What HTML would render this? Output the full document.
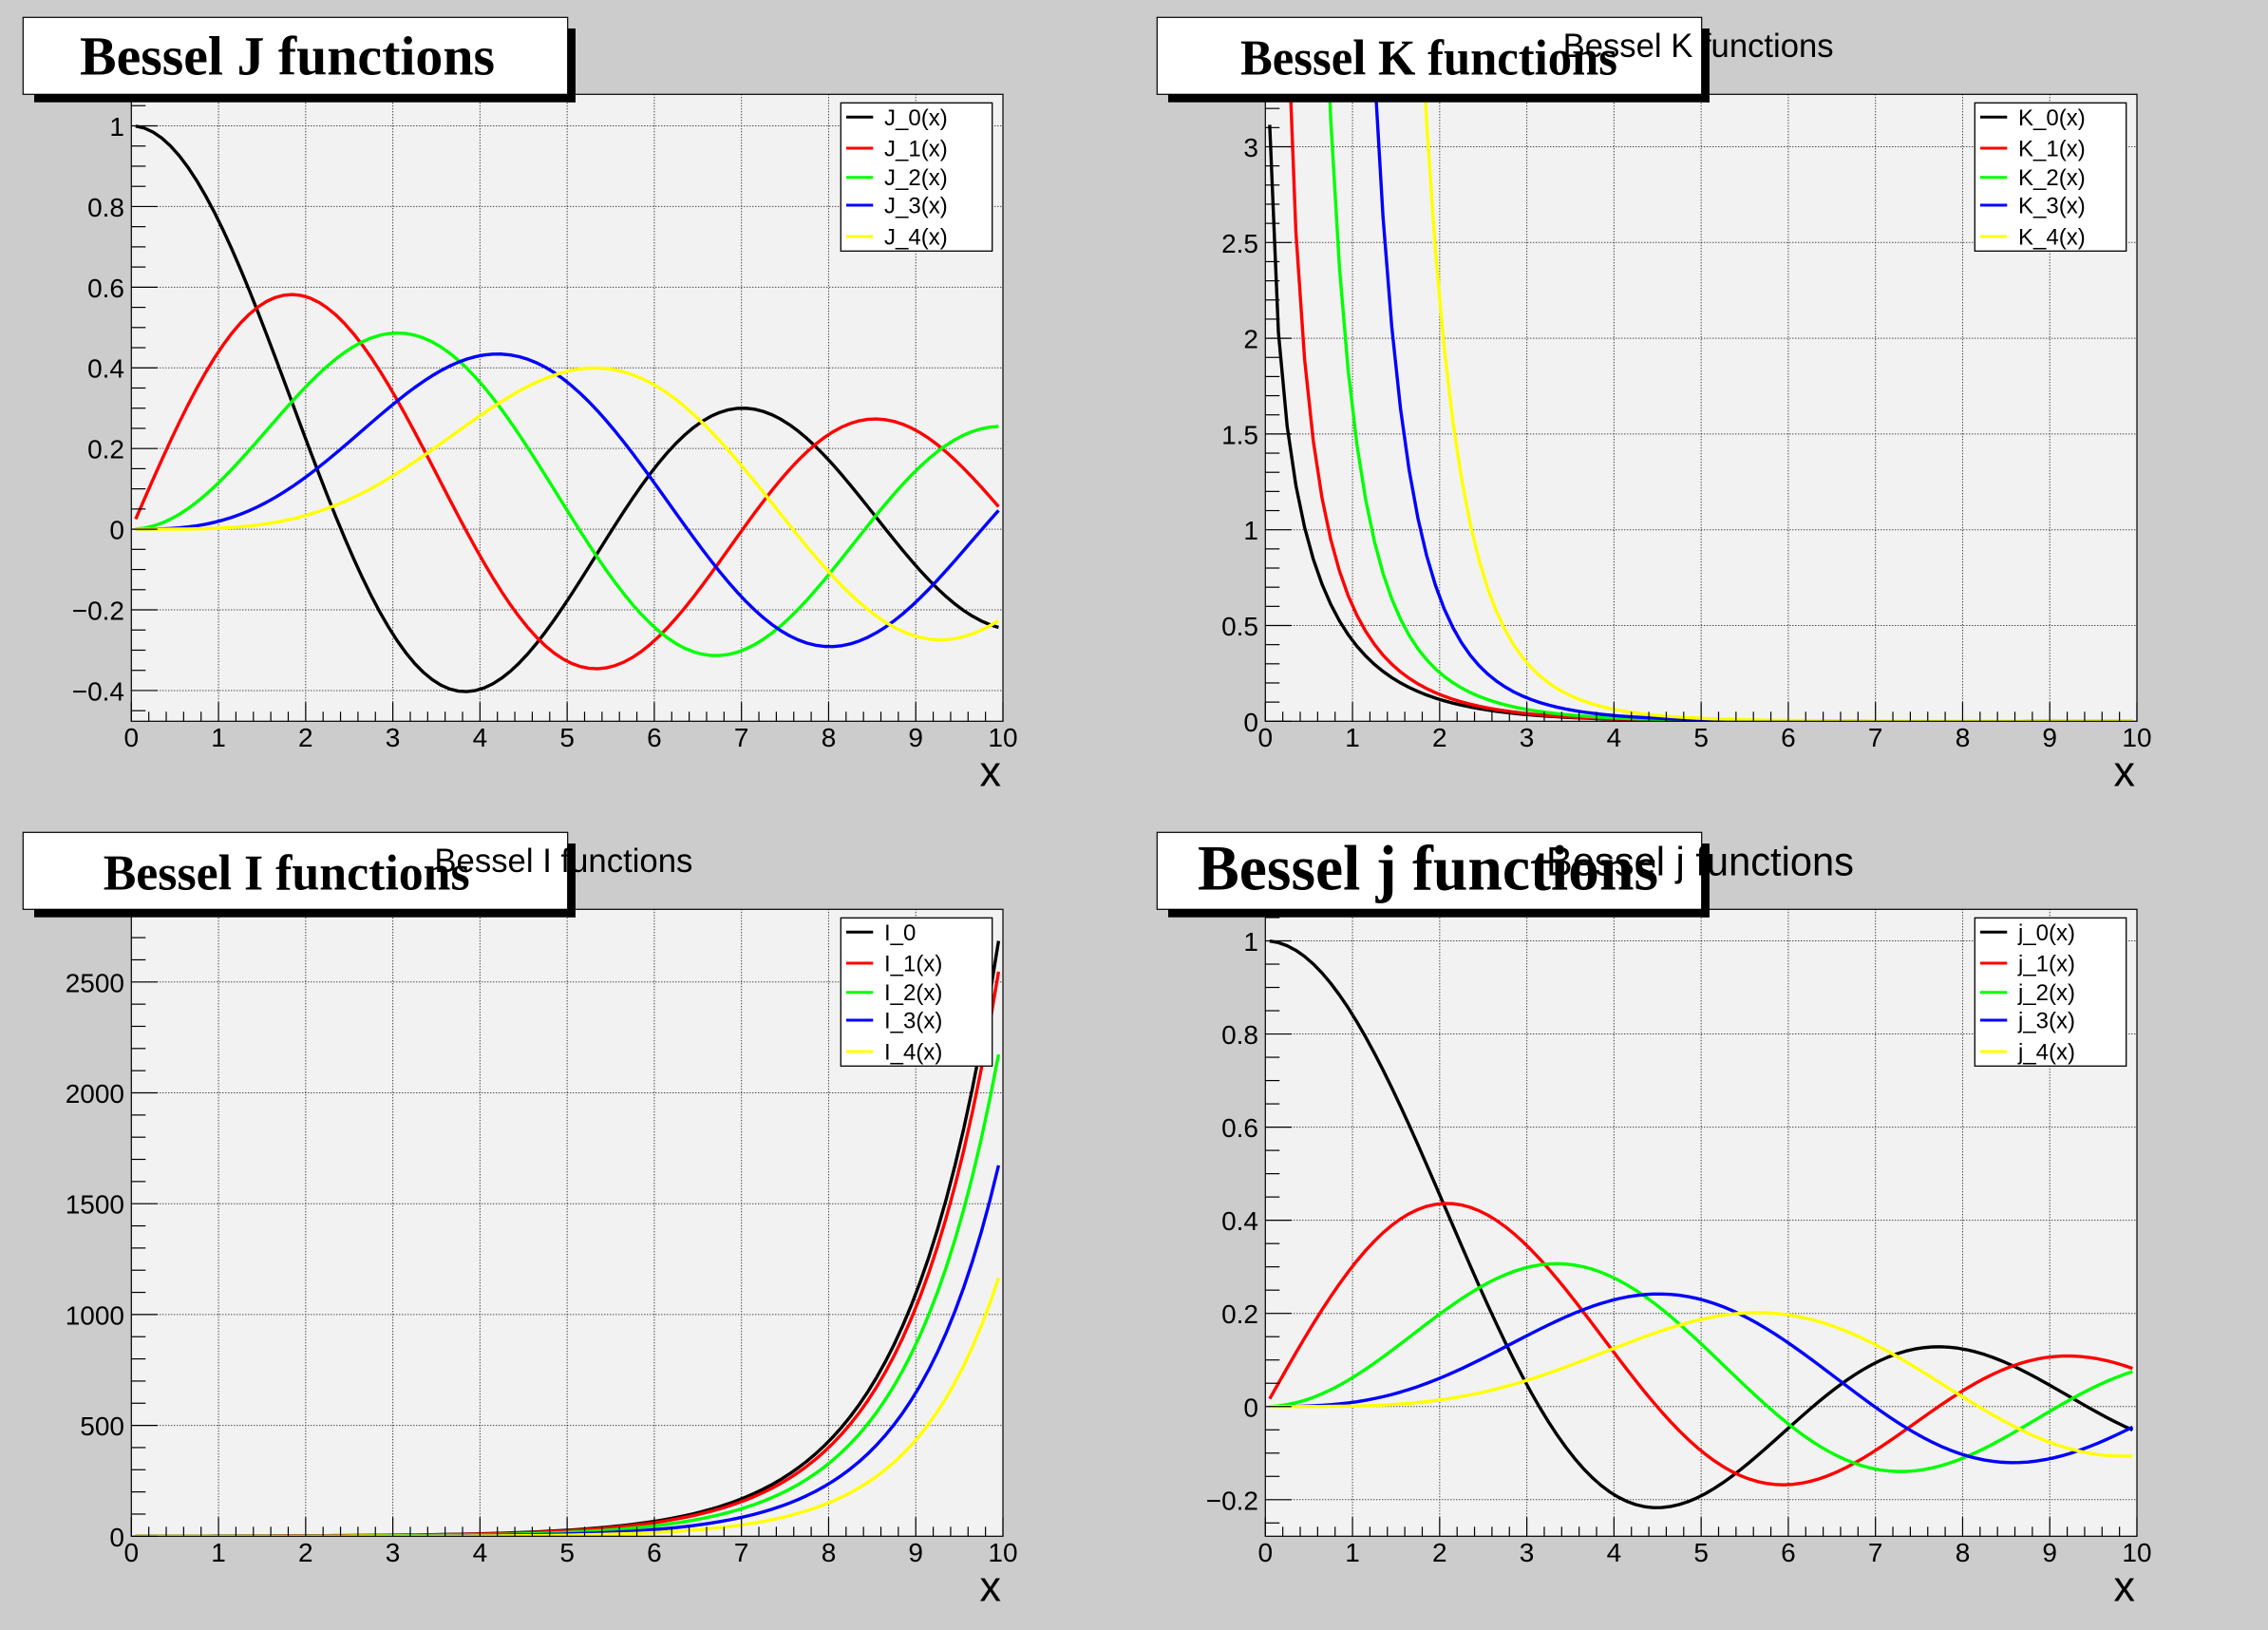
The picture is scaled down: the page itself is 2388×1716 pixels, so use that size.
<!DOCTYPE html>
<html><head><meta charset="utf-8">
<style>
html,body{margin:0;padding:0;background:#cccccc;}
svg{display:block}
text{font-family:"Liberation Sans",Arial,sans-serif;fill:#000;}
.ttl{font-family:"Liberation Serif","Times New Roman",serif;font-weight:bold;}
.yl{font-size:28px;text-anchor:end;}
.xl{font-size:28px;text-anchor:middle;}
.lg{font-size:24px;}
.ax{font-size:45px;text-anchor:end;}
</style></head><body>
<svg id="s" width="2388" height="1716" viewBox="0 0 2388 1716" xmlns="http://www.w3.org/2000/svg">
<defs><clipPath id="fc" clipPathUnits="userSpaceOnUse"><rect x="138.3" y="99.3" width="917.7" height="660"/></clipPath></defs>
<rect width="2388" height="1716" fill="#cccccc"/>

<!-- ================= Panel J ================= -->
<g transform="translate(0,0)">
<rect x="138.3" y="99.3" width="917.7" height="660" fill="#f2f2f2"/>
<g id="grid0"></g>
<g id="cur0" clip-path="url(#fc)"></g>
<rect x="138.3" y="99.3" width="917.7" height="660" fill="none" stroke="#000" stroke-width="1.2"/>
<g id="tick0"></g>
<text class="yl" x="131" y="143">1</text>
<text class="yl" x="131" y="227.9">0.8</text>
<text class="yl" x="131" y="312.8">0.6</text>
<text class="yl" x="131" y="397.7">0.4</text>
<text class="yl" x="131" y="482.7">0.2</text>
<text class="yl" x="131" y="567.6">0</text>
<text class="yl" x="131" y="652.5">−0.2</text>
<text class="yl" x="131" y="737.5">−0.4</text>
<text class="xl" x="138.3" y="786">0</text><text class="xl" x="230.1" y="786">1</text><text class="xl" x="321.8" y="786">2</text><text class="xl" x="413.6" y="786">3</text><text class="xl" x="505.4" y="786">4</text><text class="xl" x="597.2" y="786">5</text><text class="xl" x="688.9" y="786">6</text><text class="xl" x="780.7" y="786">7</text><text class="xl" x="872.5" y="786">8</text><text class="xl" x="964.2" y="786">9</text><text class="xl" x="1056" y="786">10</text>
<text class="ax" x="1054" y="827.5">x</text>
<rect x="885.3" y="108.3" width="159.4" height="156" fill="#fff" stroke="#000" stroke-width="1.3"/>
<line x1="891" x2="919.3" y1="123.3" y2="123.3" stroke="#000" stroke-width="3"/><text class="lg" x="931" y="131.8">J_0(x)</text>
<line x1="891" x2="919.3" y1="156" y2="156" stroke="#ff0000" stroke-width="3"/><text class="lg" x="931" y="164.5">J_1(x)</text>
<line x1="891" x2="919.3" y1="186.7" y2="186.7" stroke="#00ff00" stroke-width="3"/><text class="lg" x="931" y="195.2">J_2(x)</text>
<line x1="891" x2="919.3" y1="216" y2="216" stroke="#0000ff" stroke-width="3"/><text class="lg" x="931" y="224.5">J_3(x)</text>
<line x1="891" x2="919.3" y1="249" y2="249" stroke="#ffff00" stroke-width="3"/><text class="lg" x="931" y="257.5">J_4(x)</text>
<rect x="597.7" y="30" width="8.3" height="77.7" fill="#000"/>
<rect x="36" y="99.3" width="570" height="8.4" fill="#000"/>
<rect x="24.3" y="18.3" width="573.4" height="81" fill="#fff" stroke="#000" stroke-width="1.2"/>
<text class="ttl" x="84" y="78.3" font-size="58" textLength="437" lengthAdjust="spacingAndGlyphs">Bessel J functions</text>
</g>

<!-- ================= Panel K ================= -->
<g transform="translate(1194,0)">
<rect x="138.3" y="99.3" width="917.7" height="660" fill="#f2f2f2"/>
<g id="grid1"></g>
<g id="cur1" clip-path="url(#fc)"></g>
<rect x="138.3" y="99.3" width="917.7" height="660" fill="none" stroke="#000" stroke-width="1.2"/>
<g id="tick1"></g>
<text class="yl" x="131" y="769.8">0</text>
<text class="yl" x="131" y="669">0.5</text>
<text class="yl" x="131" y="568.2">1</text>
<text class="yl" x="131" y="467.4">1.5</text>
<text class="yl" x="131" y="366.6">2</text>
<text class="yl" x="131" y="265.8">2.5</text>
<text class="yl" x="131" y="165">3</text>
<text class="xl" x="138.3" y="786">0</text><text class="xl" x="230.1" y="786">1</text><text class="xl" x="321.8" y="786">2</text><text class="xl" x="413.6" y="786">3</text><text class="xl" x="505.4" y="786">4</text><text class="xl" x="597.2" y="786">5</text><text class="xl" x="688.9" y="786">6</text><text class="xl" x="780.7" y="786">7</text><text class="xl" x="872.5" y="786">8</text><text class="xl" x="964.2" y="786">9</text><text class="xl" x="1056" y="786">10</text>
<text class="ax" x="1054" y="827.5">x</text>
<rect x="885.3" y="108.3" width="159.4" height="156" fill="#fff" stroke="#000" stroke-width="1.3"/>
<line x1="891" x2="919.3" y1="123.3" y2="123.3" stroke="#000" stroke-width="3"/><text class="lg" x="931" y="131.8">K_0(x)</text>
<line x1="891" x2="919.3" y1="156" y2="156" stroke="#ff0000" stroke-width="3"/><text class="lg" x="931" y="164.5">K_1(x)</text>
<line x1="891" x2="919.3" y1="186.7" y2="186.7" stroke="#00ff00" stroke-width="3"/><text class="lg" x="931" y="195.2">K_2(x)</text>
<line x1="891" x2="919.3" y1="216" y2="216" stroke="#0000ff" stroke-width="3"/><text class="lg" x="931" y="224.5">K_3(x)</text>
<line x1="891" x2="919.3" y1="249" y2="249" stroke="#ffff00" stroke-width="3"/><text class="lg" x="931" y="257.5">K_4(x)</text>
<rect x="597.7" y="30" width="8.3" height="77.7" fill="#000"/>
<rect x="36" y="99.3" width="570" height="8.4" fill="#000"/>
<rect x="24.3" y="18.3" width="573.4" height="81" fill="#fff" stroke="#000" stroke-width="1.2"/>
<text class="ttl" x="112" y="78.3" font-size="53" textLength="397" lengthAdjust="spacingAndGlyphs">Bessel K functions</text>
<text x="451.6" y="60" font-size="35" textLength="285" lengthAdjust="spacingAndGlyphs">Bessel K functions</text>
</g>

<!-- ================= Panel I ================= -->
<g transform="translate(0,858)">
<rect x="138.3" y="99.3" width="917.7" height="660" fill="#f2f2f2"/>
<g id="grid2"></g>
<g id="cur2" clip-path="url(#fc)"></g>
<rect x="138.3" y="99.3" width="917.7" height="660" fill="none" stroke="#000" stroke-width="1.2"/>
<g id="tick2"></g>
<text class="yl" x="131" y="769.8">0</text>
<text class="yl" x="131" y="653.1">500</text>
<text class="yl" x="131" y="536.4">1000</text>
<text class="yl" x="131" y="419.7">1500</text>
<text class="yl" x="131" y="303">2000</text>
<text class="yl" x="131" y="186.3">2500</text>
<text class="xl" x="138.3" y="786">0</text><text class="xl" x="230.1" y="786">1</text><text class="xl" x="321.8" y="786">2</text><text class="xl" x="413.6" y="786">3</text><text class="xl" x="505.4" y="786">4</text><text class="xl" x="597.2" y="786">5</text><text class="xl" x="688.9" y="786">6</text><text class="xl" x="780.7" y="786">7</text><text class="xl" x="872.5" y="786">8</text><text class="xl" x="964.2" y="786">9</text><text class="xl" x="1056" y="786">10</text>
<text class="ax" x="1054" y="827.5">x</text>
<rect x="885.3" y="108.3" width="159.4" height="156" fill="#fff" stroke="#000" stroke-width="1.3"/>
<line x1="891" x2="919.3" y1="123.3" y2="123.3" stroke="#000" stroke-width="3"/><text class="lg" x="931" y="131.8">I_0</text>
<line x1="891" x2="919.3" y1="156" y2="156" stroke="#ff0000" stroke-width="3"/><text class="lg" x="931" y="164.5">I_1(x)</text>
<line x1="891" x2="919.3" y1="186.7" y2="186.7" stroke="#00ff00" stroke-width="3"/><text class="lg" x="931" y="195.2">I_2(x)</text>
<line x1="891" x2="919.3" y1="216" y2="216" stroke="#0000ff" stroke-width="3"/><text class="lg" x="931" y="224.5">I_3(x)</text>
<line x1="891" x2="919.3" y1="249" y2="249" stroke="#ffff00" stroke-width="3"/><text class="lg" x="931" y="257.5">I_4(x)</text>
<rect x="597.7" y="30" width="8.3" height="77.7" fill="#000"/>
<rect x="36" y="99.3" width="570" height="8.4" fill="#000"/>
<rect x="24.3" y="18.3" width="573.4" height="81" fill="#fff" stroke="#000" stroke-width="1.2"/>
<text class="ttl" x="108.7" y="78.3" font-size="53" textLength="386" lengthAdjust="spacingAndGlyphs">Bessel I functions</text>
<text x="457.4" y="60" font-size="35" textLength="272" lengthAdjust="spacingAndGlyphs">Bessel I functions</text>
</g>

<!-- ================= Panel j ================= -->
<g transform="translate(1194,858)">
<rect x="138.3" y="99.3" width="917.7" height="660" fill="#f2f2f2"/>
<g id="grid3"></g>
<g id="cur3" clip-path="url(#fc)"></g>
<rect x="138.3" y="99.3" width="917.7" height="660" fill="none" stroke="#000" stroke-width="1.2"/>
<g id="tick3"></g>
<text class="yl" x="131" y="143">1</text>
<text class="yl" x="131" y="241.05">0.8</text>
<text class="yl" x="131" y="339.1">0.6</text>
<text class="yl" x="131" y="437.15">0.4</text>
<text class="yl" x="131" y="535.2">0.2</text>
<text class="yl" x="131" y="633.25">0</text>
<text class="yl" x="131" y="731.3">−0.2</text>
<text class="xl" x="138.3" y="786">0</text><text class="xl" x="230.1" y="786">1</text><text class="xl" x="321.8" y="786">2</text><text class="xl" x="413.6" y="786">3</text><text class="xl" x="505.4" y="786">4</text><text class="xl" x="597.2" y="786">5</text><text class="xl" x="688.9" y="786">6</text><text class="xl" x="780.7" y="786">7</text><text class="xl" x="872.5" y="786">8</text><text class="xl" x="964.2" y="786">9</text><text class="xl" x="1056" y="786">10</text>
<text class="ax" x="1054" y="827.5">x</text>
<rect x="885.3" y="108.3" width="159.4" height="156" fill="#fff" stroke="#000" stroke-width="1.3"/>
<line x1="891" x2="919.3" y1="123.3" y2="123.3" stroke="#000" stroke-width="3"/><text class="lg" x="931" y="131.8">j_0(x)</text>
<line x1="891" x2="919.3" y1="156" y2="156" stroke="#ff0000" stroke-width="3"/><text class="lg" x="931" y="164.5">j_1(x)</text>
<line x1="891" x2="919.3" y1="186.7" y2="186.7" stroke="#00ff00" stroke-width="3"/><text class="lg" x="931" y="195.2">j_2(x)</text>
<line x1="891" x2="919.3" y1="216" y2="216" stroke="#0000ff" stroke-width="3"/><text class="lg" x="931" y="224.5">j_3(x)</text>
<line x1="891" x2="919.3" y1="249" y2="249" stroke="#ffff00" stroke-width="3"/><text class="lg" x="931" y="257.5">j_4(x)</text>
<rect x="597.7" y="30" width="8.3" height="77.7" fill="#000"/>
<rect x="36" y="99.3" width="570" height="8.4" fill="#000"/>
<rect x="24.3" y="18.3" width="573.4" height="81" fill="#fff" stroke="#000" stroke-width="1.2"/>
<text class="ttl" x="67" y="78.3" font-size="68" textLength="485" lengthAdjust="spacingAndGlyphs">Bessel j functions</text>
<text x="434" y="63.3" font-size="43" textLength="324" lengthAdjust="spacingAndGlyphs">Bessel j functions</text>
</g>
</svg>
<script>
(function(){
var NS="http://www.w3.org/2000/svg";
function fac(n){var f=1;for(var i=2;i<=n;i++)f*=i;return f;}
function dfac(m){var f=1;for(var i=m;i>1;i-=2)f*=i;return f;}
function BJ(n,x){var s=0;for(var k=0;k<50;k++){s+=(k%2?-1:1)*Math.pow(x/2,2*k+n)/(fac(k)*fac(k+n));}return s;}
function BI(n,x){var s=0;for(var k=0;k<50;k++){s+=Math.pow(x/2,2*k+n)/(fac(k)*fac(k+n));}return s;}
function BK(n,x){var h=0.002,s=0;for(var i=0;i<=10000;i++){var t=i*h;var v=Math.exp(-x*Math.cosh(t))*Math.cosh(n*t);s+=(i===0?0.5:1)*v;}return s*h;}
function Bj(n,x){var s=0;for(var k=0;k<40;k++){s+=(k%2?-1:1)*Math.pow(x*x/2,k)/(fac(k)*dfac(2*n+2*k+1));}return s*Math.pow(x,n);}
var cols=["#000000","#ff0000","#00ff00","#0000ff","#ffff00"];
var P=[
 {y0:557.1,s:424.6,minor:0.05,major:0.2,f:BJ},
 {y0:759.3,s:201.6,minor:0.1,major:0.5,f:BK},
 {y0:759.3,s:0.2334,minor:100,major:500,f:BI},
 {y0:622.75,s:490.25,minor:0.05,major:0.2,f:Bj}
];
function X(v){return 138.3+91.77*v;}
function el(tag,attrs,parent){var e=document.createElementNS(NS,tag);for(var k in attrs)e.setAttribute(k,attrs[k]);parent.appendChild(e);return e;}
function path(f,n,y0,s){
  var LIM=-400,pts=[];
  for(var i=0;i<100;i++){var x=0.05+0.1*i;var v=f(n,x);var y=y0-s*v;if(!isFinite(y))y=-1e12;pts.push([X(x),y]);}
  var d='',pen=false;
  for(var i=0;i<pts.length;i++){
    var p=pts[i];
    if(p[1]>=LIM){
      if(!pen){
        if(i>0){var q=pts[i-1];var t=(LIM-p[1])/(q[1]-p[1]);d+='M'+(p[0]+(q[0]-p[0])*t).toFixed(2)+','+LIM+'L';}
        else d+='M';
        pen=true;d+=p[0].toFixed(2)+','+p[1].toFixed(2);
      } else d+='L'+p[0].toFixed(2)+','+p[1].toFixed(2);
    } else if(pen){
      var q=pts[i-1];var t=(LIM-q[1])/(p[1]-q[1]);d+='L'+(q[0]+(p[0]-q[0])*t).toFixed(2)+','+LIM;pen=false;
    }
  }
  return d;
}
for(var pi=0;pi<4;pi++){
  var c=P[pi];
  var grid=document.getElementById('grid'+pi),tick=document.getElementById('tick'+pi),cur=document.getElementById('cur'+pi);
  for(var k=0;k<=50;k++){
    var x=X(k*0.2);var maj=(k%5===0);
    el('line',{x1:x,x2:x,y1:759.3,y2:759.3-(maj?20:10),stroke:'#000','stroke-width':1.2},tick);
    if(maj&&k>0&&k<50)el('line',{x1:x,x2:x,y1:99.3,y2:759.3,stroke:'#000','stroke-width':1,'stroke-dasharray':'1,2'},grid);
  }
  var vTop=(c.y0-99.3)/c.s,vBot=(c.y0-759.3)/c.s;
  var kmin=Math.ceil(vBot/c.minor-1e-9),kmax=Math.floor(vTop/c.minor+1e-9);
  for(var k=kmin;k<=kmax;k++){
    var v=k*c.minor;var y=c.y0-c.s*v;var r=v/c.major;var maj=Math.abs(r-Math.round(r))<1e-6;
    el('line',{x1:138.3,x2:138.3+(maj?27.5:15),y1:y,y2:y,stroke:'#000','stroke-width':1.2},tick);
    if(maj&&y<758&&y>100.5)el('line',{x1:138.3,x2:1056,y1:y,y2:y,stroke:'#000','stroke-width':1,'stroke-dasharray':'1,2'},grid);
  }
  for(var n=0;n<5;n++){
    el('path',{d:path(c.f,n,c.y0,c.s),fill:'none',stroke:cols[n],'stroke-width':3.4,'stroke-linejoin':'round'},cur);
  }
}
})();
</script>
</body></html>
